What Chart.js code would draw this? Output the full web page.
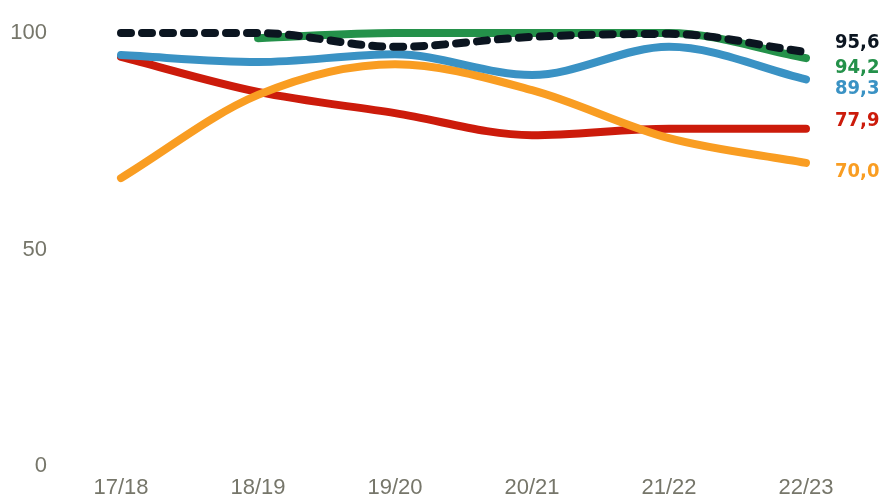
<!DOCTYPE html>
<html>
<head>
<meta charset="utf-8">
<script src="https://cdn.jsdelivr.net/npm/chart.js@4/dist/chart.umd.min.js"></script>
<style>
  html, body { margin: 0; padding: 0; background: #ffffff; overflow: hidden; }
  #wrap { width: 883px; height: 498px; position: relative; }
</style>
</head>
<body>
<div id="wrap"><canvas id="c"></canvas></div>
<script>
// ---- data ----
const categories = ["17/18", "18/19", "19/20", "20/21", "21/22", "22/23"];
const seriesBlack  = [100, 100, 96.8, 99.1, 99.8, 95.6];
const seriesGreen  = [null, 98.8, 100, 100, 100, 94.2];
const seriesBlue   = [94.9, 93.3, 95.1, 90.3, 96.8, 89.3];
const seriesOrange = [66.5, 85.7, 92.8, 86.8, 75.7, 70.0];
const seriesRed    = [94.5, 86.4, 81.5, 76.4, 77.9, 77.9];
const yTickValues  = [0, 50, 100];

// ---- styles ----
const colors = {
  black: "#0b1520",
  green: "#24914a",
  blue: "#3a92c4",
  orange: "#f99d22",
  red: "#cc1b0b"
};
const tickColor = "#76766a";
const tickFont = { family: "'Liberation Sans', Arial, sans-serif", size: 22 };

function ds(data, color, extra) {
  return Object.assign({
    data: data,
    borderColor: color,
    backgroundColor: color,
    borderWidth: 8,
    pointRadius: 0,
    pointHoverRadius: 0,
    fill: false,
    cubicInterpolationMode: "monotone",
    borderCapStyle: "round",
    borderJoinStyle: "round",
    spanGaps: false,
    clip: false
  }, extra || {});
}

const endLabels = {
  id: "endLabels",
  afterDatasetsDraw(chart, args, opts) {
    const ctx = chart.ctx;
    const xScale = chart.scales.x;
    const yScale = chart.scales.y;
    const xPix = xScale.getPixelForValue(categories.length - 1) + opts.gap;
    ctx.save();
    ctx.font = opts.font;
    ctx.textAlign = "left";
    ctx.textBaseline = "middle";
    chart.data.datasets.forEach((d, i) => {
      const v = d.data[d.data.length - 1];
      const y = yScale.getPixelForValue(v) + (opts.dy[i] || 0);
      ctx.fillStyle = d.borderColor;
      ctx.fillText(v.toFixed(1).replace(".", ","), xPix, y);
    });
    ctx.restore();
  }
};

new Chart(document.getElementById("c"), {
  type: "line",
  data: {
    labels: categories,
    datasets: [
      ds(seriesBlack, colors.black, { borderDash: [10, 11] }),
      ds(seriesGreen, colors.green),
      ds(seriesBlue, colors.blue),
      ds(seriesOrange, colors.orange),
      ds(seriesRed, colors.red)
    ]
  },
  options: {
    responsive: true,
    maintainAspectRatio: false,
    devicePixelRatio: 1,
    animation: false,
    layout: { padding: { left: 0, right: 77, top: 33, bottom: 0 } },
    plugins: {
      legend: { display: false },
      tooltip: { enabled: false },
      endLabels: {
        gap: 29,
        font: "bold 20px 'DejaVu Sans Condensed', 'DejaVu Sans', sans-serif",
        dy: [-9, 10, 9, 9, -8]
      }
    },
    scales: {
      x: {
        offset: false,
        grid: { display: false, drawTicks: false },
        border: { display: false },
        ticks: {
          color: tickColor,
          font: tickFont,
          padding: 9,
          maxRotation: 0,
          autoSkip: false
        },
        afterFit(scale) {
          scale.height = 32;
          scale.paddingLeft = 0;
          scale.paddingRight = 0;
        }
      },
      y: {
        min: 0,
        max: 100,
        grid: { display: false, drawTicks: false },
        border: { display: false },
        afterBuildTicks(scale) {
          scale.ticks = yTickValues.map(v => ({ value: v }));
        },
        ticks: {
          color: tickColor,
          font: tickFont,
          padding: 74
        },
        afterFit(scale) {
          scale.width = 121;
          scale.paddingTop = 0;
          scale.paddingBottom = 0;
        }
      }
    }
  },
  plugins: [endLabels]
});
</script>
</body>
</html>
